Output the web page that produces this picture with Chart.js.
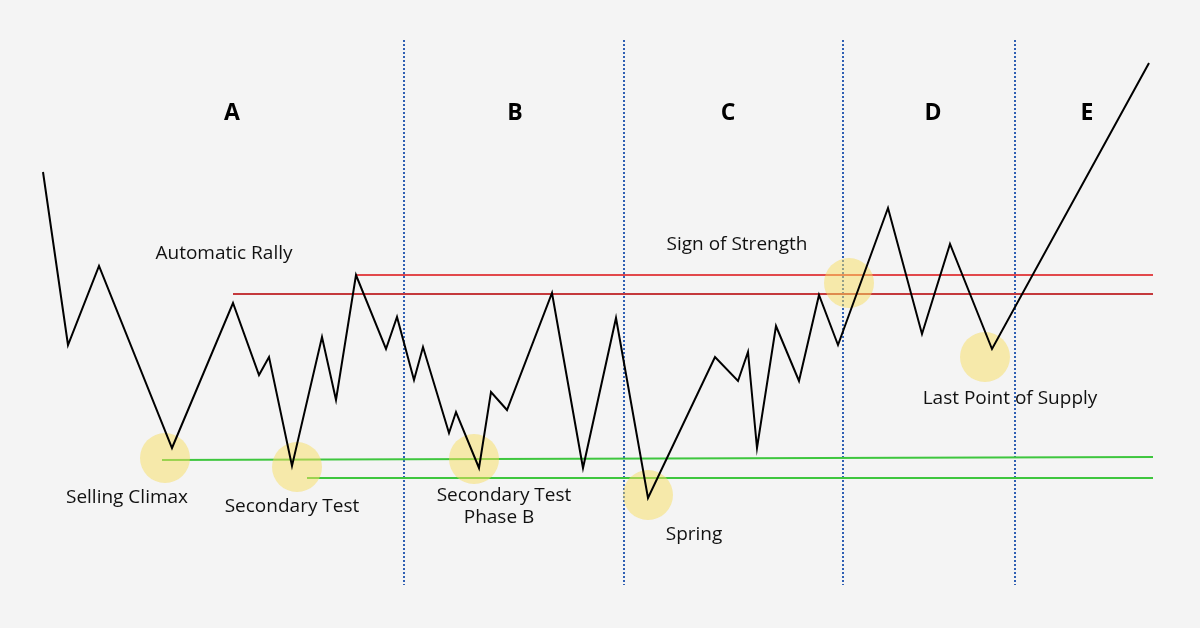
<!DOCTYPE html>
<html>
<head>
<meta charset="utf-8">
<script src="https://cdn.jsdelivr.net/npm/chart.js@4.4.1/dist/chart.umd.min.js"></script>
<style>
  html, body { margin: 0; padding: 0; background: #f4f4f4; }
  #wrap { width: 1200px; height: 628px; }
</style>
</head>
<body>
<div id="wrap"><canvas id="c" width="1200" height="628"></canvas></div>
<script>
// ---- Data (time on x, price on y) ----
const priceTime  = [43, 68, 99, 172, 233, 259, 269, 292, 322, 336, 356, 386, 397, 414, 423, 449, 456, 479, 491, 507, 552, 583, 616, 648, 715, 738, 748, 757, 776, 799, 819, 838, 888, 922, 950, 992, 1149];
const priceValue = [456, 283, 362, 180, 325, 253, 271, 162, 291, 228, 353, 279, 311, 248, 281, 195, 216, 160, 236, 218, 335, 160, 310, 130, 271, 247, 276, 180, 302, 247, 333, 283, 420, 294, 384, 279, 565];

// resistance (red) lines: start time, end time, level
const resistStart = [356, 233];
const resistEnd   = [1153, 1153];
const resistLevel = [353, 334];
const resistColor = ['#e2484b', '#c4393c'];

// support (green) lines: start time, end time, level at start, level at end
const supportStart    = [162, 307];
const supportEnd      = [1153, 1153];
const supportLevelA   = [168, 150];
const supportLevelB   = [171, 150];

// phase boundaries (time)
const phaseBounds = [404, 624, 843, 1015];
const boundTop = 588, boundBottom = 43;

// phase letters
const phaseNames = ['A', 'B', 'C', 'D', 'E'];
const phaseX     = [232, 515, 728, 933, 1087];
const phaseY     = 515;

// highlighted events (circles)
const eventTime  = [165, 297, 474, 648, 849, 985];
const eventPrice = [170, 161, 169, 133, 345, 271];

// event labels
const labelTexts = ['Automatic Rally', 'Selling Climax', 'Secondary Test', 'Secondary Test', 'Phase B', 'Spring', 'Sign of Strength', 'Last Point of Supply'];
const labelX     = [224, 127, 292, 504, 499, 694, 737, 1010];
const labelY     = [374, 130, 121, 132, 110, 93, 383, 229];

// ---- Build datasets ----
const datasets = [];

phaseBounds.forEach(t => {
  datasets.push({
    type: 'line',
    data: [{x: t, y: boundTop}, {x: t, y: boundBottom}],
    borderColor: '#2f5fb3',
    borderWidth: 2,
    borderDash: [2, 2],
    pointRadius: 0,
    order: 5
  });
});

resistLevel.forEach((lv, i) => {
  datasets.push({
    type: 'line',
    data: [{x: resistStart[i], y: lv}, {x: resistEnd[i], y: lv}],
    borderColor: resistColor[i],
    borderWidth: 2,
    pointRadius: 0,
    order: 4
  });
});

supportStart.forEach((s, i) => {
  datasets.push({
    type: 'line',
    data: [{x: s, y: supportLevelA[i]}, {x: supportEnd[i], y: supportLevelB[i]}],
    borderColor: '#3ec63e',
    borderWidth: 2,
    pointRadius: 0,
    order: 4
  });
});

datasets.push({
  type: 'bubble',
  data: eventTime.map((t, i) => ({x: t, y: eventPrice[i], r: 25})),
  backgroundColor: 'rgba(248,222,96,0.5)',
  borderWidth: 0,
  hoverRadius: 0,
  clip: false,
  order: 2
});

datasets.push({
  type: 'line',
  data: priceTime.map((t, i) => ({x: t, y: priceValue[i]})),
  borderColor: '#000000',
  borderWidth: 2,
  pointRadius: 0,
  tension: 0,
  order: 1
});

const textPlugin = {
  id: 'texts',
  afterDatasetsDraw(chart) {
    const ctx = chart.ctx;
    const xs = chart.scales.x, ys = chart.scales.y;
    ctx.save();
    ctx.textAlign = 'center';
    ctx.textBaseline = 'middle';
    ctx.fillStyle = '#111111';
    ctx.font = '19px "Open Sans", sans-serif';
    labelTexts.forEach((t, i) => {
      ctx.fillText(t, xs.getPixelForValue(labelX[i]), ys.getPixelForValue(labelY[i]));
    });
    ctx.fillStyle = '#000000';
    ctx.font = 'bold 23px "Open Sans", sans-serif';
    phaseNames.forEach((t, i) => {
      ctx.fillText(t, xs.getPixelForValue(phaseX[i]), ys.getPixelForValue(phaseY));
    });
    ctx.restore();
  }
};

const bgPlugin = {
  id: 'bg',
  beforeDraw(chart) {
    const ctx = chart.ctx;
    ctx.save();
    ctx.fillStyle = '#f4f4f4';
    ctx.fillRect(0, 0, chart.width, chart.height);
    ctx.restore();
  }
};

new Chart(document.getElementById('c'), {
  type: 'line',
  data: { datasets },
  options: {
    responsive: false,
    animation: false,
    devicePixelRatio: 1,
    layout: { padding: 0, autoPadding: false },
    plugins: { legend: { display: false }, tooltip: { enabled: false } },
    events: [],
    scales: {
      x: { type: 'linear', min: 0, max: 1200, display: false },
      y: { type: 'linear', min: 0, max: 628, display: false }
    }
  },
  plugins: [bgPlugin, textPlugin]
});
</script>
</body>
</html>
